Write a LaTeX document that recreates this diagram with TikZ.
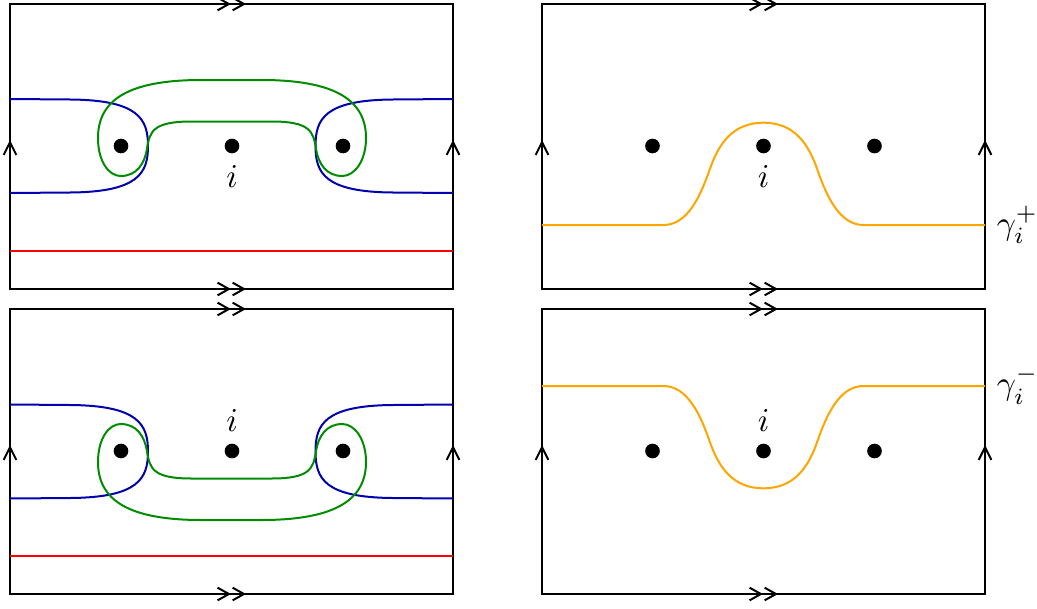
\documentclass[tikz,border=0pt]{standalone}
\usetikzlibrary{arrows.meta}
\definecolor{cblue}{RGB}{0,0,175}
\definecolor{cgreen}{RGB}{0,140,0}
\definecolor{corange}{RGB}{255,165,0}
\definecolor{cred}{RGB}{255,0,0}
\tikzset{
  frameline/.style={line width=0.6pt,black},
  curveline/.style={line width=0.6pt},
  tipone/.style={-{Straight Barb[length=3.8pt,width=3.8pt]}},
  tiptwo/.style={-{Straight Barb[length=3.4pt,width=3.8pt,sep=0.2pt]Straight Barb[length=3.4pt,width=3.8pt]}},
  puncture/.style={circle,fill=black,inner sep=0pt,minimum size=4.4pt},
  panel/.pic={
    \draw[frameline] (-221.5,143) -- (-221.5,-142) -- (221.5,-142) -- (221.5,143) -- cycle;
    \draw[frameline,tiptwo] (-221.5,-142) -- (14.5,-142);
    \draw[frameline,tiptwo] (-221.5,143) -- (14.5,143);
    \draw[frameline,tipone] (-221.5,143) -- (-221.5,-6);
    \draw[frameline,tipone] (221.5,143) -- (221.5,-6);
  },
  bluepair/.pic={
    \draw[cblue,curveline] (-221.5,-47) -- (-161.5,-46.5) .. controls (-93,-46) and (-83.5,-27) .. (-83.5,0)
      .. controls (-83.5,27) and (-93,46) .. (-161.5,46.5) -- (-221.5,47);
    \draw[cblue,curveline] (221.5,-47) -- (161.5,-46.5) .. controls (93,-46) and (84,-27) .. (84,0)
      .. controls (84,27) and (93,46) .. (161.5,46.5) -- (221.5,47);
  },
  greenloop/.pic={
    \draw[cgreen,curveline] (0,-66) -- (-30,-66) .. controls (-105,-66) and (-133.5,-45) .. (-133.5,-8)
      .. controls (-133.5,15) and (-123,30) .. (-110.8,30)
      .. controls (-95,30) and (-87,18) .. (-84.5,3)
      .. controls (-82,-15) and (-78,-24.5) .. (-40,-24.5) -- (40,-24.5)
      .. controls (78,-24.5) and (82,-15) .. (84.5,3)
      .. controls (87,18) and (95,30) .. (110.8,30)
      .. controls (123,30) and (134.5,15) .. (134.5,-8)
      .. controls (134.5,-45) and (105,-66) .. (30,-66) -- cycle;
  },
  bump/.pic={
    \draw[corange,curveline] (-221.5,79) -- (-100,79) .. controls (-76,79) and (-63,50) .. (-54,24)
      .. controls (-45,-2) and (-31,-23.3) .. (0,-23.3)
      .. controls (31,-23.3) and (45,-2) .. (54,24)
      .. controls (63,50) and (76,79) .. (100,79) -- (221.5,79);
  }
}
\begin{document}
\begin{tikzpicture}[x=0.3pt,y=-0.3pt]
\useasboundingbox (0,0) rectangle (1037,608);
% top left
\pic at (231.5,146) {panel};
\pic at (231.5,146) {bluepair};
\pic at (231.5,146) {greenloop};
\draw[cred,curveline] (10,251) -- (453,251);
\node[puncture] (tla) at (121,146) {};
\node[puncture,label=below:$i$] (tlb) at (232,146) {};
\node[puncture] (tlc) at (343,146) {};
% bottom left
\pic at (231.5,451) {panel};
\pic[yscale=-1] at (231.5,451.5) {bluepair};
\pic[yscale=-1] at (231.5,454) {greenloop};
\draw[cred,curveline] (10,556) -- (453,556);
\node[puncture] (bla) at (121,451) {};
\node[puncture,label=above:$i$] (blb) at (232,451) {};
\node[puncture] (blc) at (343,451) {};
% top right
\pic at (763.5,146) {panel};
\pic at (763.5,146) {bump};
\node[puncture] (tra) at (652.5,146) {};
\node[puncture,label=below:$i$] (trb) at (763.5,146) {};
\node[puncture] (trc) at (874.5,146) {};
\node[anchor=west] (gp) at (985,225) {$\gamma_i^+$};
% bottom right
\pic at (763.5,451) {panel};
\pic[yscale=-1] at (763.5,465) {bump};
\node[puncture] (bra) at (652.5,451) {};
\node[puncture,label=above:$i$] (brb) at (763.5,451) {};
\node[puncture] (brc) at (874.5,451) {};
\node[anchor=west] (gm) at (985,385) {$\gamma_i^-$};
\end{tikzpicture}
\end{document}
